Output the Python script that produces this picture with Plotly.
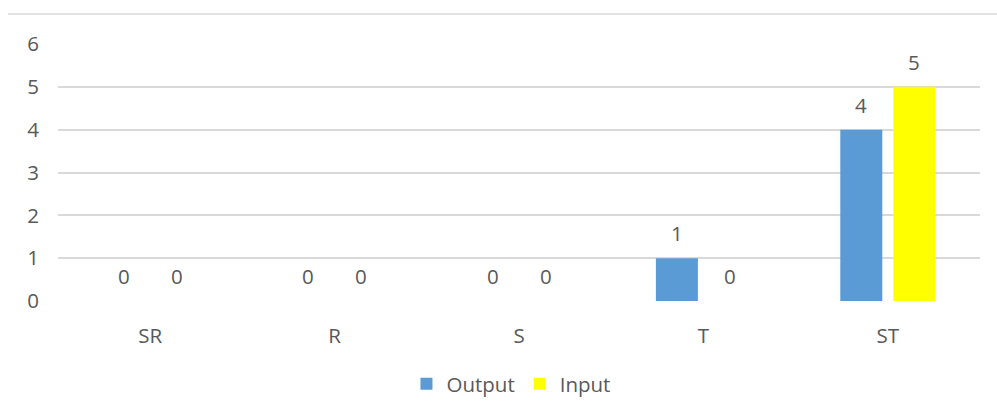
import plotly.graph_objects as go

categories = ["SR", "R", "S", "T", "ST"]
output_values = [0, 0, 0, 1, 4]
input_values = [0, 0, 0, 0, 5]
y_ticks = [0, 1, 2, 3, 4, 5, 6]

BLUE = "#5b9bd5"
YELLOW = "#ffff00"
TEXT = "#595959"
GRID = "#d9d9d9"
FONT = "Open Sans, Calibri, sans-serif"
FS = 20.5

fig = go.Figure()
fig.add_trace(go.Bar(name="Output", x=categories, y=output_values,
                     marker=dict(color=BLUE, line=dict(width=0))))
fig.add_trace(go.Bar(name="Input", x=categories, y=input_values,
                     marker=dict(color=YELLOW, line=dict(width=0))))

# value labels above each bar (offset to each bar's slot within the group)
for vals, dx in ((output_values, -26.5), (input_values, 26.5)):
    for c, v in zip(categories, vals):
        fig.add_annotation(x=c, y=v, text=str(v), showarrow=False,
                           xanchor="center", yanchor="middle",
                           xshift=dx, yshift=25,
                           font=dict(family=FONT, size=FS, color=TEXT))

# thin frame line across the top of the chart area
fig.add_shape(type="line", xref="paper", yref="paper",
              x0=-50 / 922, x1=1 + 17 / 922, y0=1 + 30 / 257, y1=1 + 30 / 257,
              line=dict(color=GRID, width=1.5))

fig.update_layout(
    width=997, height=414,
    margin=dict(l=58, r=17, t=44, b=113, autoexpand=False),
    paper_bgcolor="white", plot_bgcolor="white",
    barmode="group", bargap=0.425, bargroupgap=0.2075,
    font=dict(family=FONT, size=FS, color=TEXT),
    showlegend=True,
    legend=dict(orientation="h", xref="container", x=0.5125, xanchor="center",
                yref="container", y=1 - 384 / 414, yanchor="middle",
                font=dict(family=FONT, size=FS, color=TEXT),
                itemwidth=30, traceorder="normal"),
    xaxis=dict(showgrid=False, showline=False, zeroline=False,
               ticks="", ticklabelstandoff=20, automargin=False,
               tickfont=dict(family=FONT, size=FS, color=TEXT)),
    yaxis=dict(range=[0, 6], tickvals=y_ticks, showgrid=True,
               gridcolor=GRID, gridwidth=2, zeroline=False, automargin=False,
               showline=False, ticks="", ticklabelstandoff=18,
               tickfont=dict(family=FONT, size=FS, color=TEXT)),
)

fig.write_html("out.html")
